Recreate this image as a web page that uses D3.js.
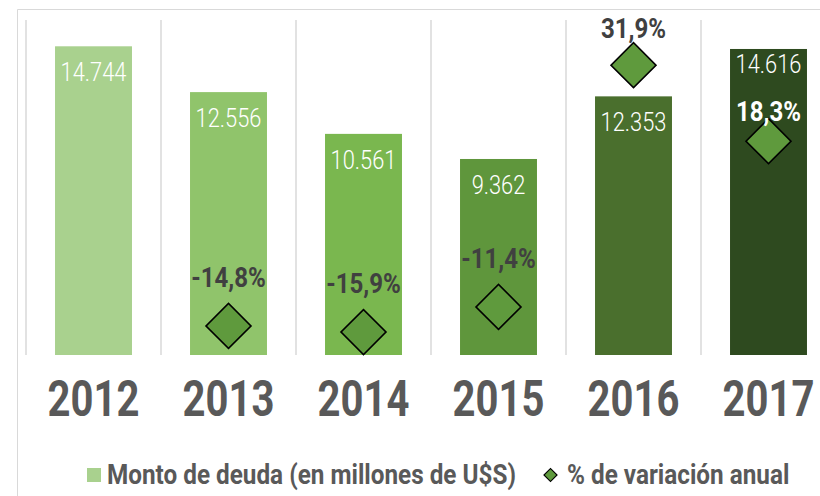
<!DOCTYPE html>
<html>
<head>
<meta charset="utf-8">
<script src="https://cdn.jsdelivr.net/npm/d3@7"></script>
<style>
  body { margin: 0; background: #fff; }
  svg { display: block; font-family: Roboto, "Noto Sans", sans-serif; }
</style>
</head>
<body>
<div id="chart"></div>
<script>
const years = ["2012", "2013", "2014", "2015", "2016", "2017"];
const deuda = [14744, 12556, 10561, 9362, 12353, 14616];
const deudaLabels = ["14.744", "12.556", "10.561", "9.362", "12.353", "14.616"];
const variacion = [null, -14.8, -15.9, -11.4, 31.9, 18.3];
const variacionLabels = [null, "-14,8%", "-15,9%", "-11,4%", "31,9%", "18,3%"];
const barColors = ["#a9d18e", "#90c46b", "#7ab74f", "#5f963c", "#4a6f2d", "#2e4a1f"];
const legendLabels = ["Monto de deuda (en millones de U$S)", "% de variación anual"];

const W = 820, H = 496;
const margin = {top: 20, left: 26, plotRight: 836, bottom: 355};

const svg = d3.select('#chart')
  .append("svg")
    .attr("width", W)
    .attr("height", H);

// chart frame (cut at the right edge like the original)
svg.append("path")
  .attr("d", `M17.5,${H} V9.5 H${W}`)
  .attr("fill", "none")
  .attr("stroke", "#d9d9d9")
  .attr("stroke-width", 1);

const x = d3.scaleBand()
  .domain(years)
  .range([margin.left, margin.plotRight])
  .paddingInner(0.43)
  .paddingOuter(0.215);

const y = d3.scaleLinear()
  .domain([0, 16000])
  .range([margin.bottom, margin.top]);

const y2 = d3.scaleLinear()
  .domain([-20, 40])
  .range([margin.bottom, margin.top]);

// vertical gridlines between categories
svg.append("g")
  .selectAll("line")
  .data(years)
  .join("line")
    .attr("x1", d => x(d) - x.step() * x.paddingOuter())
    .attr("x2", d => x(d) - x.step() * x.paddingOuter())
    .attr("y1", y.range()[1])
    .attr("y2", y.range()[0])
    .attr("stroke", "#d9d9d9")
    .attr("stroke-width", 1.5);

const data = years.map((yr, i) => ({
  year: yr, value: deuda[i], label: deudaLabels[i], color: barColors[i],
  pct: variacion[i], pctLabel: variacionLabels[i]
}));

// bars
svg.append("g")
  .selectAll("rect")
  .data(data)
  .join("rect")
    .attr("x", d => x(d.year))
    .attr("y", d => y(d.value))
    .attr("width", x.bandwidth())
    .attr("height", d => y(0) - y(d.value))
    .attr("fill", d => d.color);

// condensed look: squeeze text horizontally around its anchor
function place(sel, fx, fy, sx) {
  sel.attr("transform", d => `translate(${fx(d)},${fy(d)}) scale(${sx},1)`);
}

// bar value labels (the last one sits higher to leave room for the % label)
svg.append("g")
  .selectAll("text")
  .data(data)
  .join("text")
    .attr("text-anchor", "middle")
    .attr("fill", "#fff")
    .attr("font-size", 26)
    .attr("font-weight", 300)
    .text(d => d.label)
    .call(place, d => x(d.year) + x.bandwidth() / 2,
      d => y(d.value) + (d.year === "2017" ? 24 : 35), 0.84);

// diamonds for the annual variation
const pts = data.filter(d => d.pct !== null);
const diamond = d3.symbol(d3.symbolSquare, 1012);
svg.append("g")
  .selectAll("path")
  .data(pts)
  .join("path")
    .attr("d", diamond)
    .attr("transform", d => `translate(${x(d.year) + x.bandwidth() / 2},${y2(d.pct)}) rotate(45)`)
    .attr("fill", "#5f9a3d")
    .attr("stroke", "#000")
    .attr("stroke-width", 1.6);

// % labels: above the diamond, closer on the positive side
function pctOffset(d) {
  if (d.pct < 0) return 39;
  return d.year === "2017" ? 20 : 27;
}
svg.append("g")
  .selectAll("text")
  .data(pts)
  .join("text")
    .attr("text-anchor", "middle")
    .attr("fill", d => d.year === "2017" ? "#fff" : "#404040")
    .attr("font-size", 28)
    .attr("font-weight", 700)
    .text(d => d.pctLabel)
    .call(place, d => x(d.year) + x.bandwidth() / 2,
      d => y2(d.pct) - pctOffset(d), 0.86);

// year axis labels
svg.append("g")
  .selectAll("text")
  .data(years)
  .join("text")
    .attr("text-anchor", "middle")
    .attr("fill", "#595959")
    .attr("font-size", 50)
    .attr("font-weight", 700)
    .text(d => d)
    .call(place, d => x(d) + x.bandwidth() / 2, () => 416, 0.8);

// legend
const legend = svg.append("g").attr("transform", "translate(0,475)");
legend.append("rect")
  .attr("x", 87).attr("y", -7)
  .attr("width", 14).attr("height", 14)
  .attr("fill", barColors[0]);
legend.append("text")
  .attr("fill", "#595959")
  .attr("font-size", 27)
  .attr("font-weight", 700)
  .attr("transform", "translate(107,8.5) scale(0.9,1)")
  .text(legendLabels[0]);
legend.append("path")
  .attr("d", d3.symbol(d3.symbolSquare, 85))
  .attr("transform", "translate(550.5,0) rotate(45)")
  .attr("fill", "#5f9a3d")
  .attr("stroke", "#000")
  .attr("stroke-width", 1.2);
legend.append("text")
  .attr("fill", "#595959")
  .attr("font-size", 27)
  .attr("font-weight", 700)
  .attr("transform", "translate(567,8.5) scale(0.9,1)")
  .text(legendLabels[1]);
</script>
</body>
</html>
